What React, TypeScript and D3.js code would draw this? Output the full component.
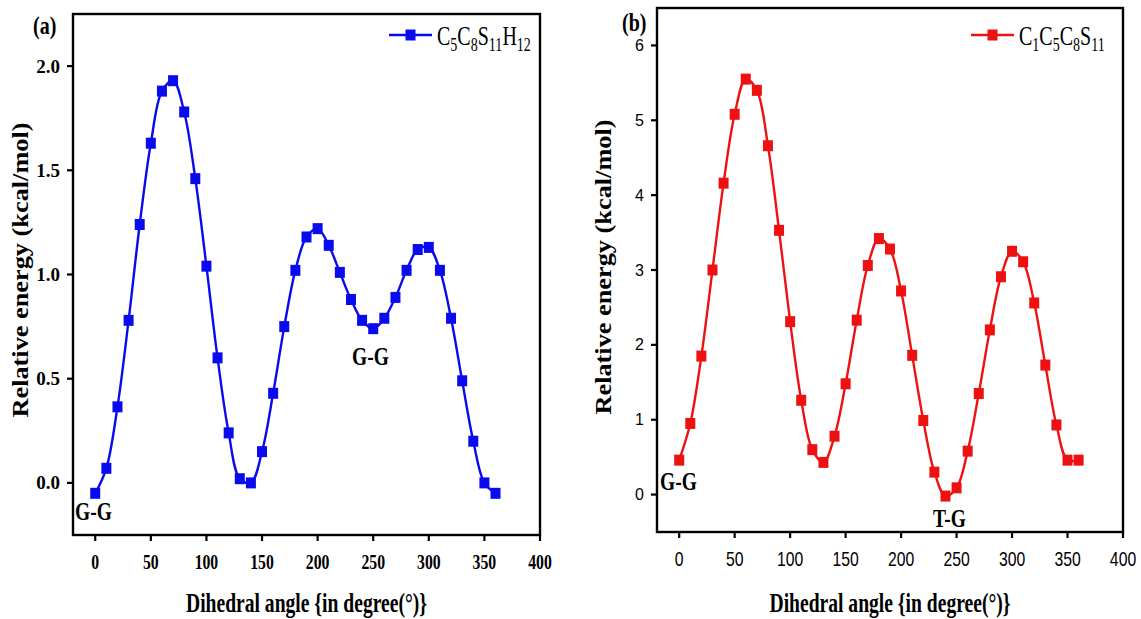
import * as d3 from 'd3'

const ANGLES = [0, 10, 20, 30, 40, 50, 60, 70, 80, 90, 100, 110, 120, 130, 140, 150, 160, 170, 180,
  190, 200, 210, 220, 230, 240, 250, 260, 270, 280, 290, 300, 310, 320, 330, 340, 350, 360]

// panel (a) C5C8S11H12
const ENERGY_A = [-0.05, 0.07, 0.365, 0.78, 1.24, 1.63, 1.88, 1.93, 1.78, 1.46, 1.04, 0.60, 0.24, 0.02, 0.0,
  0.15, 0.43, 0.75, 1.02, 1.18, 1.22, 1.14, 1.01, 0.88, 0.78, 0.74, 0.79, 0.89, 1.02, 1.12, 1.13, 1.02,
  0.79, 0.49, 0.20, 0.0, -0.05]

// panel (b) C1C5C8S11
const ENERGY_B = [0.46, 0.95, 1.85, 3.0, 4.16, 5.08, 5.55, 5.40, 4.66, 3.53, 2.31, 1.26, 0.60, 0.43, 0.78,
  1.48, 2.33, 3.06, 3.42, 3.28, 2.72, 1.86, 0.99, 0.30, -0.02, 0.09, 0.58, 1.35, 2.20, 2.91, 3.25, 3.11,
  2.56, 1.73, 0.93, 0.46, 0.46]

const X_TICKS = [0, 50, 100, 150, 200, 250, 300, 350, 400]
const Y_TICKS_A = [0, 0.5, 1.0, 1.5, 2.0]
const Y_TICKS_B = [0, 1, 2, 3, 4, 5, 6]

const FORMULA_A = [['C', '5'], ['C', '8'], ['S', '11'], ['H', '12']]
const FORMULA_B = [['C', '1'], ['C', '5'], ['C', '8'], ['S', '11']]

const SERIF = '"Liberation Serif", "Times New Roman", serif'
const SANS = '"Liberation Sans", Arial, sans-serif'
const SX = 0.74 // the figure's text is squeezed sideways

function Squeezed({ x, y, sx = SX, children, ...rest }: any) {
  return (
    <g transform={`translate(${x},${y}) scale(${sx},1)`}>
      <text {...rest}>{children}</text>
    </g>
  )
}

function Panel({ frame, yDomain, values, color, yTicks, yFmt, yTickFont, xTickFont, formula, legend, label, notes, yTitle, xTitle }: any) {
  const x = d3.scaleLinear().domain([-20, 400]).range([frame.left, frame.right])
  const y = d3.scaleLinear().domain(yDomain).range([frame.bottom, frame.top])
  const pts = ANGLES.map((a, i) => [a, values[i]] as [number, number])
  const line = d3.line<[number, number]>()
    .x(d => x(d[0]))
    .y(d => y(d[1]))
    .curve(d3.curveCatmullRom.alpha(0.5))

  return (
    <g>
      {/* data */}
      <path d={line(pts) || ''} fill="none" stroke={color} strokeWidth={2.4} />
      {pts.map((d, i) => (
        <rect key={i} x={x(d[0]) - 5} y={y(d[1]) - 5.5} width={10} height={11} fill={color} />
      ))}

      {/* frame */}
      <rect x={frame.left} y={frame.top} width={frame.right - frame.left} height={frame.bottom - frame.top}
        fill="none" stroke="#000" strokeWidth={2.4} />

      {/* y axis */}
      {yTicks.map((t: number) => (
        <g key={t}>
          <line x1={frame.left - 6} x2={frame.left} y1={y(t)} y2={y(t)} stroke="#000" strokeWidth={2.2} />
          <text x={frame.left - 13} y={y(t)} textAnchor="end" dominantBaseline="central"
            fontFamily={yTickFont.family} fontWeight={yTickFont.weight} fontSize={yTickFont.size}>
            {yFmt(t)}
          </text>
        </g>
      ))}

      {/* x axis */}
      {X_TICKS.map(t => (
        <g key={t}>
          <line x1={x(t)} x2={x(t)} y1={frame.bottom} y2={frame.bottom + 6} stroke="#000" strokeWidth={2.2} />
          <Squeezed x={x(t)} y={xTickFont.baseline} sx={0.75} textAnchor="middle"
            fontFamily={xTickFont.family} fontWeight={xTickFont.weight} fontSize={xTickFont.size}>
            {t}
          </Squeezed>
        </g>
      ))}

      {/* axis titles */}
      <text transform={`translate(${yTitle.x},${yTitle.y}) rotate(-90)`} textAnchor="middle" dominantBaseline="central"
        fontFamily={SERIF} fontWeight="bold" fontSize={24} textLength={295} lengthAdjust="spacingAndGlyphs">
        Relative energy (kcal/mol)
      </text>
      <text x={(frame.left + frame.right) / 2} y={xTitle.y} textAnchor="middle"
        fontFamily={SERIF} fontWeight="bold" fontSize={27} textLength={241} lengthAdjust="spacingAndGlyphs">
        {'Dihedral angle {in degree(\u00b0)}'}
      </text>

      {/* panel label */}
      <Squeezed x={label.x} y={label.y} sx={0.8} fontFamily={SERIF} fontWeight="bold" fontSize={25}>
        {label.text}
      </Squeezed>

      {/* legend */}
      <line x1={legend.x} x2={legend.x + 43} y1={legend.y} y2={legend.y} stroke={color} strokeWidth={2.6} />
      <rect x={legend.x + 21.5 - 5} y={legend.y - 5.5} width={10} height={11} fill={color} />
      <Squeezed x={legend.x + 48} y={legend.y + 10} sx={0.74} fontFamily={SERIF} fontSize={27}>
        {formula.map((p: string[], i: number) => (
          <tspan key={i}>
            <tspan dy={i === 0 ? 0 : -6}>{p[0]}</tspan>
            <tspan dy={6} fontSize={19}>{p[1]}</tspan>
          </tspan>
        ))}
      </Squeezed>

      {/* conformer notes */}
      {notes.map((n: any, i: number) => (
        <Squeezed key={i} x={n.x} y={n.y} sx={0.78} fontFamily={SERIF} fontWeight="bold" fontSize={25}>
          {n.text}
        </Squeezed>
      ))}
    </g>
  )
}

export default function App() {
  return (
    <svg width={1141} height={619} style={{ position: 'absolute', left: 0, top: 0, background: '#fff' }}>
      <rect width={1141} height={619} fill="#fff" />
      <Panel
        frame={{ left: 73, right: 540, top: 14, bottom: 535 }}
        yDomain={[-0.25, 2.25]}
        values={ENERGY_A}
        color="#0a0aef"
        yTicks={Y_TICKS_A}
        yFmt={d3.format('.1f')}
        yTickFont={{ family: SERIF, weight: 'bold', size: 19 }}
        xTickFont={{ family: SERIF, weight: 'bold', size: 21, baseline: 569 }}
        formula={FORMULA_A}
        legend={{ x: 389, y: 35 }}
        label={{ x: 33, y: 34, text: '(a)' }}
        notes={[{ x: 75, y: 520, text: 'G-G' }, { x: 352, y: 365, text: 'G-G' }]}
        yTitle={{ x: 20, y: 270 }}
        xTitle={{ y: 612 }}
      />
      <Panel
        frame={{ left: 657, right: 1123, top: 8, bottom: 532 }}
        yDomain={[-0.5, 6.5]}
        values={ENERGY_B}
        color="#ee1111"
        yTicks={Y_TICKS_B}
        yFmt={d3.format('d')}
        yTickFont={{ family: SANS, weight: 'normal', size: 16 }}
        xTickFont={{ family: SANS, weight: 'normal', size: 21, baseline: 566 }}
        formula={FORMULA_B}
        legend={{ x: 971, y: 35 }}
        label={{ x: 622, y: 31, text: '(b)' }}
        notes={[{ x: 660, y: 490, text: 'G-G' }, { x: 933, y: 527, text: 'T-G' }]}
        yTitle={{ x: 603, y: 267 }}
        xTitle={{ y: 612 }}
      />
    </svg>
  )
}
